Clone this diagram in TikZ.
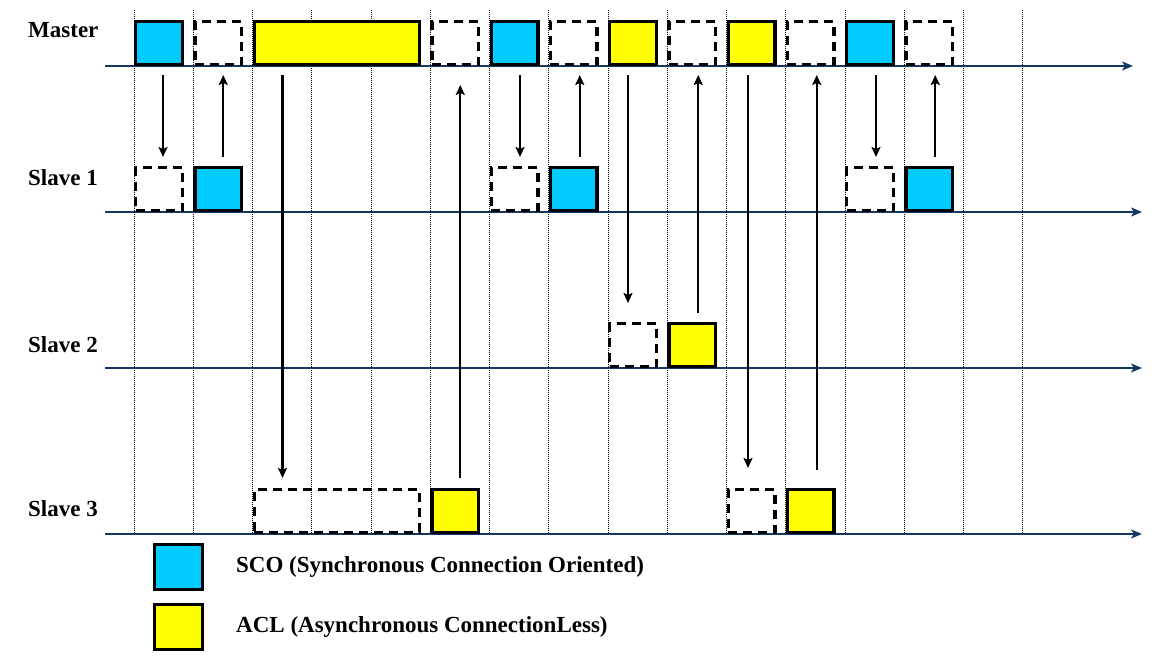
\documentclass[tikz,border=0pt]{standalone}
\usepackage{fontspec}
\setmainfont{Liberation Serif}
\usetikzlibrary{arrows.meta}

\definecolor{scoblue}{RGB}{0,204,255}
\definecolor{aclyellow}{RGB}{255,255,0}
\definecolor{axisblue}{RGB}{20,54,98}
\newcommand\slotw{59.25}

\begin{document}
\begin{tikzpicture}[x=1pt, y=1pt,
  every node/.style = {font=\fontsize{23}{27}\selectfont\bfseries},
  slotbox/.style = {shape=rectangle, draw, line width=3.4pt, anchor=south west,
    minimum width=46.6pt, minimum height=42.6pt, inner sep=0pt, outer sep=1.7pt},
  sco/.style = {slotbox, fill=scoblue},
  acl/.style = {slotbox, fill=aclyellow},
  idle/.style = {slotbox, dash pattern=on 9pt off 6pt},
  long/.style = {minimum width=165pt},
  label/.style = {anchor=base west, inner sep=0pt},
  slotline/.style = {line width=1pt, dash pattern=on 1pt off 1pt},
  timeaxis/.style = {draw=axisblue, line width=2.8pt,
    -{Stealth[length=11pt, width=9pt, inset=3pt]}},
  msg/.style = {line width=2.2pt, -{Stealth[length=10pt, width=9pt, inset=2pt]},
    shorten <=9pt, shorten >=9pt}]

  \useasboundingbox (0,0) rectangle (1158,660);

  % slot boundaries
  \foreach \i in {0,...,15}
    \draw[slotline] ({134+\i*\slotw},650) -- ({134+\i*\slotw},126);

  % time axes
  \draw[timeaxis] (105,594) -- (1133,594);
  \draw[timeaxis] (105,448) -- (1142,448);
  \draw[timeaxis] (105,292) -- (1142,292);
  \draw[timeaxis] (105,126) -- (1142,126);

  \node[label] (master) at (28,622) {Master};
  \node[label] (slave1) at (28,474) {Slave 1};
  \node[label] (slave2) at (28,307) {Slave 2};
  \node[label] (slave3) at (28,143) {Slave 3};

  % master slots
  \node[sco]       (m0)  at ({134+0*\slotw},594) {};
  \node[idle]      (m1)  at ({134+1*\slotw},594) {};
  \node[acl, long] (m2)  at ({134+2*\slotw},594) {};
  \node[idle]      (m5)  at ({134+5*\slotw},594) {};
  \node[sco]       (m6)  at ({134+6*\slotw},594) {};
  \node[idle]      (m7)  at ({134+7*\slotw},594) {};
  \node[acl]       (m8)  at ({134+8*\slotw},594) {};
  \node[idle]      (m9)  at ({134+9*\slotw},594) {};
  \node[acl]       (m10) at ({134+10*\slotw},594) {};
  \node[idle]      (m11) at ({134+11*\slotw},594) {};
  \node[sco]       (m12) at ({134+12*\slotw},594) {};
  \node[idle]      (m13) at ({134+13*\slotw},594) {};

  % slave 1
  \node[idle] (sa0)  at ({134+0*\slotw},448) {};
  \node[sco]  (sa1)  at ({134+1*\slotw},448) {};
  \node[idle] (sa6)  at ({134+6*\slotw},448) {};
  \node[sco]  (sa7)  at ({134+7*\slotw},448) {};
  \node[idle] (sa12) at ({134+12*\slotw},448) {};
  \node[sco]  (sa13) at ({134+13*\slotw},448) {};

  % slave 2
  \node[idle] (sb8) at ({134+8*\slotw},292) {};
  \node[acl]  (sb9) at ({134+9*\slotw},292) {};

  % slave 3
  \node[idle, long] (sc2)  at ({134+2*\slotw},126) {};
  \node[acl]        (sc5)  at ({134+5*\slotw},126) {};
  \node[idle]       (sc10) at ({134+10*\slotw},126) {};
  \node[acl]        (sc11) at ({134+11*\slotw},126) {};

  % polls and replies
  \draw[msg] ([xshift=29pt]m0.south west) -- ([xshift=29pt]sa0.north west);
  \draw[msg] ([xshift=30pt]sa1.north west) -- ([xshift=30pt]m1.south west);
  \draw[msg, shorten >=10pt] ([xshift=30pt]m2.south west) -- ([xshift=30pt]sc2.north west);
  \draw[msg, shorten <=10pt, shorten >=19pt] ([xshift=30pt]sc5.north west) -- ([xshift=30pt]m5.south west);
  \draw[msg] ([xshift=30.5pt]m6.south west) -- ([xshift=30.5pt]sa6.north west);
  \draw[msg] ([xshift=31pt]sa7.north west) -- ([xshift=31pt]m7.south west);
  \draw[msg, shorten >=19pt] ([xshift=20pt]m8.south west) -- ([xshift=20pt]sb8.north west);
  \draw[msg] ([xshift=31pt]sb9.north west) -- ([xshift=31pt]m9.south west);
  \draw[msg, shorten >=20pt] ([xshift=21.5pt]m10.south west) -- ([xshift=21.5pt]sc10.north west);
  \draw[msg, shorten <=18pt] ([xshift=31pt]sc11.north west) -- ([xshift=31pt]m11.south west);
  \draw[msg] ([xshift=31pt]m12.south west) -- ([xshift=31pt]sa12.north west);
  \draw[msg] ([xshift=31pt]sa13.north west) -- ([xshift=31pt]m13.south west);

  % legend
  \node[sco, minimum width=47.6pt, minimum height=44.6pt] (keysco) at (153,69) {};
  \node[acl, minimum width=47.6pt, minimum height=44.6pt] (keyacl) at (153,9) {};
  \node[label] (scotext) at (236,87) {SCO (Synchronous Connection Oriented)};
  \node[label] (acltext) at (236,27) {ACL (Asynchronous ConnectionLess)};
\end{tikzpicture}
\end{document}
